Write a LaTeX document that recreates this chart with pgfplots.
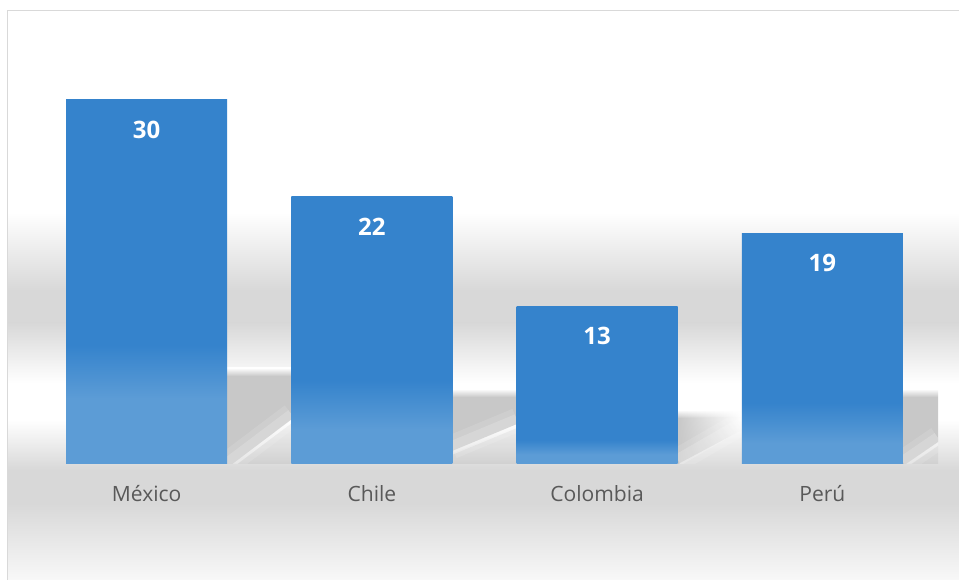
\documentclass[border=0pt]{standalone}
\usepackage{fontspec}
\setmainfont{Open Sans}
\usepackage{pgfplots}
\pgfplotsset{compat=1.18}
\usetikzlibrary{fadings}
\definecolor{barmain}{RGB}{53,131,204}
\definecolor{barlight}{RGB}{92,156,214}
\definecolor{bgg}{RGB}{216,216,216}
\definecolor{bgl}{RGB}{248,248,248}
\definecolor{labelgray}{RGB}{89,89,89}
\definecolor{framegray}{RGB}{217,217,217}
\definecolor{shadowtop}{RGB}{200,200,200}
\definecolor{shadowbot}{RGB}{200,200,200}
\tikzfading[name=fadeR, left color=transparent!0, right color=transparent!100]
\pgfdeclareverticalshading{barA}{100bp}{color(0bp)=(barlight); color(25bp)=(barlight); color(34bp)=(barlight); color(41.3bp)=(barmain); color(100bp)=(barmain)}
\pgfdeclareverticalshading{barB}{100bp}{color(0bp)=(barlight); color(25bp)=(barlight); color(31.5bp)=(barlight); color(40.7bp)=(barmain); color(100bp)=(barmain)}
\pgfdeclareverticalshading{barC}{100bp}{color(0bp)=(barlight); color(25bp)=(barlight); color(28bp)=(barlight); color(32.6bp)=(barmain); color(100bp)=(barmain)}
\pgfdeclareverticalshading{barD}{100bp}{color(0bp)=(barlight); color(25bp)=(barlight); color(29.5bp)=(barlight); color(38.2bp)=(barmain); color(100bp)=(barmain)}
% #1 = bar right edge, #2 = top Y of shadow, #3 = right X, #4 = highlight start Y, #5 = highlight end Y (at right X)
\newcommand\barshadow[5]{%
  \begin{scope}
  \clip (#1,116) rectangle (#3,{#2+8});
  \fill[shadowtop] (#1,{#4-4}) -- (#1,#2) -- (#3,#2) -- (#3,{#5-4}) -- cycle;
  \shade[top color=white, bottom color=shadowtop] (#1,#2) rectangle (#3,{#2+8});
  \fill[black, opacity=0.05] (#1,116) -- (#1,{#4-8}) -- (#3,{#5-8}) -- (#3,116) -- cycle;
  \draw[white, opacity=0.12, line width=18] (#1,#4) -- (#3,#5);
  \draw[white, opacity=0.18, line width=9] (#1,#4) -- (#3,#5);
  \end{scope}}
\begin{document}
\begin{tikzpicture}[x=0.75pt,y=0.75pt]
\path[use as bounding box] (0,0) rectangle (959,580);
\begin{scope}
\clip (0,0) rectangle (959,580);
% chart area background bands
\fill[white] (7,0) rectangle (959,570);
\shade[top color=white,bottom color=bgg] (7,290) rectangle (959,367);
\fill[bgg] (7,257) rectangle (959,290);
\shade[top color=bgg,bottom color=white] (7,197) rectangle (959,257);
\shade[top color=white,bottom color=bgg] (7,110) rectangle (959,160);
\fill[bgg] (7,77) rectangle (959,110);
\shade[top color=bgg,bottom color=bgl] (7,0) rectangle (959,77);
% bar shadows
\barshadow{227}{204}{292}{116}{165}
\barshadow{452}{183}{517}{133}{160}
\barshadow{903}{183}{938}{118}{142}
% Colombia shadow, fading to the right
\begin{scope}
\clip (678,116) rectangle (742,170);
\fill[shadowtop, path fading=fadeR, fit fading=true] (678,116) -- (678,162) -- (742,162) -- (742,150) -- cycle;
\shade[top color=white, bottom color=shadowtop, path fading=fadeR, fit fading=true] (678,162) rectangle (742,170);
\draw[white, opacity=0.12, line width=18] (678,120) -- (742,157);
\draw[white, opacity=0.18, line width=9] (678,120) -- (742,157);
\end{scope}
% frame
\draw[framegray,line width=1.2] (7.5,-5) -- (7.5,569.5) -- (965,569.5);
\end{scope}
\begin{axis}[
  at={(25.5pt,87pt)}, anchor=south west,
  scale only axis,
  width=675.75pt, height=318.7pt,
  xmin=-0.5, xmax=3.5, ymin=0, ymax=35,
  axis line style={draw=none},
  tick style={draw=none},
  ytick=\empty,
  xtick={0,1,2,3},
  xticklabels={México,Chile,Colombia,Perú},
  xticklabel style={font=\fontsize{15.8}{18}\selectfont, text=labelgray, anchor=base, yshift=-28pt},
  clip=false,
  /pgf/number format/assume math mode=true,
  every axis plot/.append style={ybar, bar width=120.75pt, bar shift=0pt, draw=none},
  nodes near coords,
  every node near coord/.append style={font=\fontsize{18}{20}\selectfont\bfseries, text=white, anchor=base, yshift=-28.9pt},
]
\addplot[shading=barA] coordinates {(0,30)};
\addplot[shading=barB] coordinates {(1,22)};
\addplot[shading=barC] coordinates {(2,13)};
\addplot[shading=barD] coordinates {(3,19)};
\end{axis}
\end{tikzpicture}
\end{document}
